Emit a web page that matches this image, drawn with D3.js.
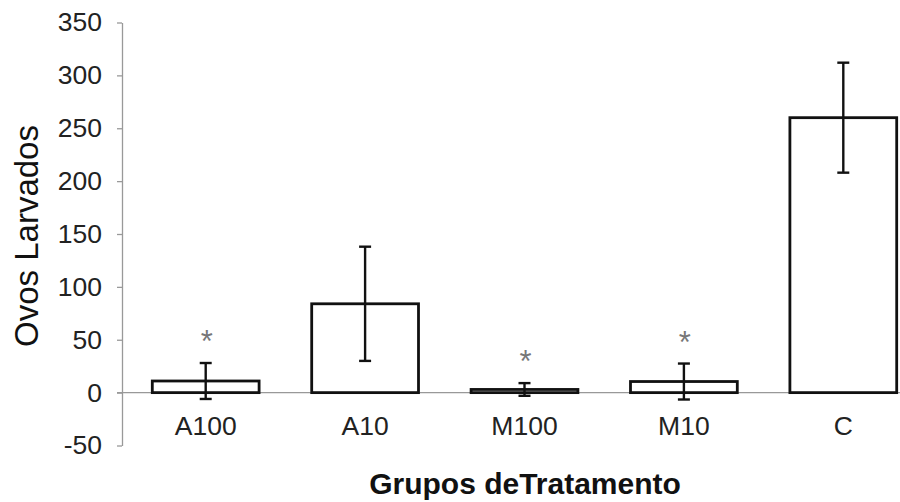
<!doctype html>
<html lang="en">
  <head>
    <meta charset="utf-8">
    <title>Ovos Larvados por Grupo de Tratamento</title>
    <script src="https://d3js.org/d3.v7.min.js"></script>
    <style>
      body { margin: 0; background: white; }
      text { font-family: "Liberation Sans", Arial, sans-serif; }
    </style>
  </head>
  <body>
    <div id="chart"></div>
    <script>
    // data
    var groups = ['A100', 'A10', 'M100', 'M10', 'C'];
    var means = [11, 84, 3, 10.5, 260];
    var errors = [17, 54, 6, 17, 52];
    var significant = [true, false, true, true, false];
    var yTicks = [-50, 0, 50, 100, 150, 200, 250, 300, 350];

    var width = 900, height = 502;
    var axisX = 122;
    var plotLeft = 126, plotRight = 923, plotTop = 22.5, plotBottom = 445.5;

    var svg = d3.select('#chart')
        .append('svg')
        .attr('width', width)
        .attr('height', height);

    var scale_x = d3.scaleBand().domain(groups).range([plotLeft, plotRight]).paddingInner(0.33).paddingOuter(0.165);
    var scale_y = d3.scaleLinear().domain([-50, 350]).range([plotBottom, plotTop]);

    // y axis
    var yAxis = svg.append('g')
        .attr('transform', 'translate(' + axisX + ',0)')
        .call(d3.axisLeft(scale_y).tickValues(yTicks)
            .tickFormat(function(d) { return String(d); })
            .tickSize(5).tickSizeOuter(0).tickPadding(15));
    yAxis.select('.domain').attr('stroke', '#999').attr('stroke-width', 1.3);
    yAxis.selectAll('.tick line').attr('stroke', '#999').attr('stroke-width', 1.3);
    yAxis.selectAll('.tick text')
        .style('font-size', '26.5px')
        .attr('fill', '#222');

    // zero line
    svg.append('line')
        .attr('x1', axisX - 5).attr('x2', width)
        .attr('y1', scale_y(0)).attr('y2', scale_y(0))
        .attr('stroke', '#999').attr('stroke-width', 1.3);

    // category labels
    svg.append('g').selectAll('text')
        .data(groups)
        .enter().append('text')
        .attr('x', function(d) { return scale_x(d) + scale_x.bandwidth() / 2; })
        .attr('y', 435)
        .attr('text-anchor', 'middle')
        .style('font-size', '26.5px')
        .attr('fill', '#222')
        .text(function(d) { return d; });

    // bars
    svg.append('g').selectAll('rect')
        .data(groups)
        .enter().append('rect')
        .attr('x', function(d) { return scale_x(d); })
        .attr('width', scale_x.bandwidth())
        .attr('y', function(d, i) { return scale_y(means[i]); })
        .attr('height', function(d, i) { return scale_y(0) - scale_y(means[i]); })
        .attr('fill', 'white')
        .attr('stroke', '#111')
        .attr('stroke-width', 2.8);

    // error bars
    var eb = svg.append('g').attr('stroke', '#111').attr('stroke-width', 2.4);
    groups.forEach(function(g, i) {
        var cx = scale_x(g) + scale_x.bandwidth() / 2;
        var hi = scale_y(means[i] + errors[i]);
        var lo = scale_y(means[i] - errors[i]);
        eb.append('line').attr('x1', cx).attr('x2', cx).attr('y1', hi).attr('y2', lo);
        eb.append('line').attr('x1', cx - 6).attr('x2', cx + 6).attr('y1', hi).attr('y2', hi);
        eb.append('line').attr('x1', cx - 6).attr('x2', cx + 6).attr('y1', lo).attr('y2', lo);
        if (significant[i]) {
            svg.append('text')
                .attr('x', cx + 1)
                .attr('y', hi - 11)
                .attr('text-anchor', 'middle')
                .style('font-size', '31px')
                .attr('fill', '#777')
                .text('*');
        }
    });

    // axis titles
    svg.append('text')
        .attr('transform', 'translate(38,236)rotate(-90)')
        .attr('text-anchor', 'middle')
        .style('font-size', '33px')
        .attr('fill', '#111')
        .text('Ovos Larvados');

    svg.append('text')
        .attr('x', 525)
        .attr('y', 494)
        .attr('text-anchor', 'middle')
        .style('font-size', '30px')
        .style('font-weight', 'bold')
        .attr('fill', '#111')
        .text('Grupos deTratamento');
    </script>
  </body>
</html>
